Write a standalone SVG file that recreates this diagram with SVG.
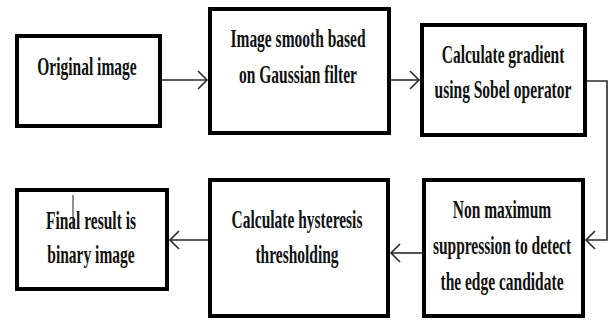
<svg xmlns="http://www.w3.org/2000/svg" width="609" height="320" viewBox="0 0 609 320">
  <style>
    .box { fill: #ffffff; stroke: #000000; stroke-width: 4; }
    .lbl { font-family: "Liberation Serif", "Times New Roman", serif; font-weight: bold; font-size: 25px; fill: #111111; text-anchor: middle; }
    .conn { fill: none; stroke: #2a2a2a; stroke-width: 1.6; }
  </style>
  <defs>
    <marker id="arrow" markerUnits="userSpaceOnUse" viewBox="-11 -11 13 22" refX="0" refY="0" markerWidth="13" markerHeight="22" orient="auto">
      <path d="M-9,-9 L0,0 L-9,9" fill="none" stroke="#2a2a2a" stroke-width="1.6"/>
    </marker>
  </defs>
  <rect width="609" height="320" fill="#ffffff"/>

  <g id="connectors">
    <path class="conn" d="M162,80 H207" marker-end="url(#arrow)"/>
    <path class="conn" d="M391,80 H419" marker-end="url(#arrow)"/>
    <path class="conn" d="M587,81 H607 V240 H586" marker-end="url(#arrow)"/>
    <path class="conn" d="M422,253 H391" marker-end="url(#arrow)"/>
    <path class="conn" d="M208,240 H170" marker-end="url(#arrow)"/>
  </g>

  <g id="node-original">
    <rect class="box" x="17" y="36" width="143" height="90"/>
    <text class="lbl" transform="translate(87,75) scale(0.62,1)">Original image</text>
  </g>

  <g id="node-smooth">
    <rect class="box" x="210" y="9" width="179" height="124"/>
    <text class="lbl" transform="translate(298,47) scale(0.62,1)">Image smooth based</text>
    <text class="lbl" transform="translate(298,83) scale(0.62,1)">on Gaussian filter</text>
  </g>

  <g id="node-gradient">
    <rect class="box" x="422" y="25" width="163" height="110"/>
    <text class="lbl" transform="translate(503,63) scale(0.62,1)">Calculate gradient</text>
    <text class="lbl" transform="translate(503,98) scale(0.62,1)">using Sobel operator</text>
  </g>

  <g id="node-nms">
    <rect class="box" x="424" y="180" width="159" height="136"/>
    <text class="lbl" transform="translate(502,218) scale(0.62,1)">Non maximum</text>
    <text class="lbl" transform="translate(502,254) scale(0.62,1)">suppression to detect</text>
    <text class="lbl" transform="translate(502,290) scale(0.62,1)">the edge candidate</text>
  </g>

  <g id="node-hysteresis">
    <rect class="box" x="210" y="180" width="178" height="136"/>
    <text class="lbl" transform="translate(297,228) scale(0.62,1)">Calculate hysteresis</text>
    <text class="lbl" transform="translate(297,263) scale(0.62,1)">thresholding</text>
  </g>

  <g id="node-final">
    <rect class="box" x="17" y="190" width="150" height="99"/>
    <text class="lbl" transform="translate(91,229) scale(0.62,1)">Final result is</text>
    <text class="lbl" transform="translate(91,263) scale(0.62,1)">binary image</text>
    <line x1="73" y1="195" x2="73" y2="228" stroke="#222222" stroke-width="1"/>
  </g>
</svg>
